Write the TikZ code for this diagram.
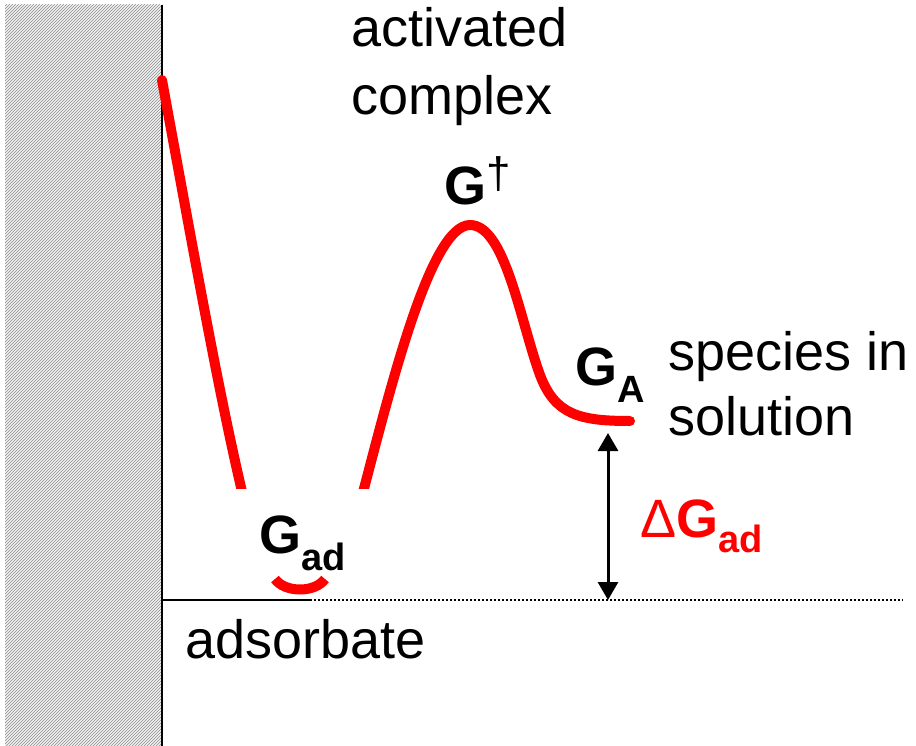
\documentclass[tikz,border=0pt]{standalone}
\usepackage{fontspec}
\setmainfont{Liberation Sans}
\usepackage{xcolor}
\usetikzlibrary{arrows.meta}
\usetikzlibrary{patterns, math}
\definecolor{myred}{RGB}{255,0,0}
\definecolor{mygray}{RGB}{140,140,140}
\newcommand{\lowsub}[2][17pt]{\raisebox{-#1}{\fontsize{38}{38}\selectfont #2}}

\begin{document}
\begin{tikzpicture}[x=1pt,y=-1pt,
  txt/.style={inner sep=0pt,anchor=base west,font=\fontsize{54}{54}\selectfont},
  bigG/.style={inner sep=0pt,anchor=base west,font=\fontsize{54}{54}\selectfont\bfseries},
  curve/.style={line width=10,color=myred}]
\tikzmath{
\W=162;
\Z=600;
\B=488;
}
\useasboundingbox (0,0) rectangle (916,746);
\fill[gray!10] (5,5) rectangle (\W,746);
\pattern[pattern=north east lines,pattern color=mygray] (5,5) rectangle (\W,746);
\draw[line width=2] (\W,5) -- (\W,746);

\coordinate (zero) at (\W,\Z);
\coordinate (solid) at (310,\Z);
\coordinate (far) at (903,\Z);
\draw[line width=1.5] (zero) -- (solid);
\draw[line width=2,dash pattern=on 2pt off 2pt] (solid) -- (far);

\begin{scope}
\clip (0,0) rectangle (916,\B);
\draw[curve,line cap=round] (\W,80) .. controls (195,260) and (220,400) .. (244,500);
\draw[curve,line cap=round] (630,421) .. controls (580,421) and (555,415) .. (540,375)
  .. controls (520,320) and (505,225) .. (470,225)
  .. controls (430,225) and (390,390) .. (361,500);
\end{scope}
\draw[curve] (275,579) .. controls (285,593) and (315,593) .. (325,579);

\coordinate (lvlA) at (608,433);
\coordinate (lvl0) at (608,\Z);
\draw[line width=3,{Triangle[width=20pt,length=18pt]}-{Triangle[width=20pt,length=18pt]}] (lvlA) -- (lvl0);

\node[txt] (act1) at (351,47) {activated};
\node[txt] (act2) at (351,115) {complex};
\node[txt] (spc1) at (668,370) {species in};
\node[txt] (spc2) at (668,435) {solution};
\node[txt] (ads) at (185,658) {adsorbate};
\node[bigG] (gts) at (444,205) {G\raisebox{16pt}{\fontsize{44}{44}\selectfont\mdseries †}};
\node[bigG] (gA) at (575,385) {G\lowsub{A}};
\node[bigG] (gad) at (259,553) {G\lowsub{ad}};
\node[bigG,text=myred] (dG) at (640,537) {{\mdseries Δ}G\lowsub[15pt]{ad}};
\end{tikzpicture}
\end{document}
